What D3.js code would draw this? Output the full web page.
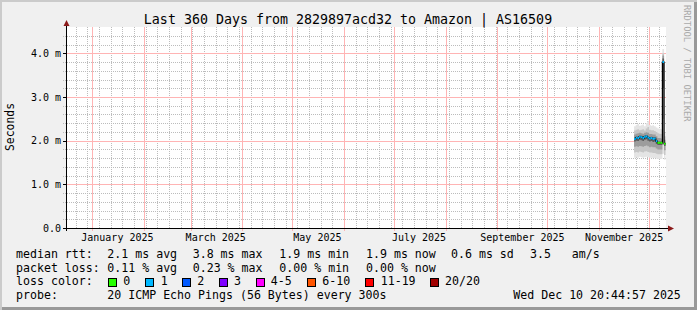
<!DOCTYPE html>
<html>
<head>
  <meta charset="utf-8">
  <title>smokeping 360 days</title>
  <style>
    body { margin: 0; background: #f0f0f0; }
    svg { display: block; font-family: "DejaVu Sans Mono", monospace; }
    .grid { fill: none; stroke-width: 1px; stroke-dasharray: 1,1; shape-rendering: crispEdges; }
    .mgrid { fill: none; stroke-width: 1px; shape-rendering: crispEdges; }
    .axis { stroke: #000; stroke-width: 1px; shape-rendering: crispEdges; }
  </style>
  <script src="https://cdn.jsdelivr.net/npm/d3@7/dist/d3.min.js"></script>
</head>
<body>
<script>
var W = 697, H = 310;

var title = "Last 360 Days from 2829897acd32 to Amazon | AS16509";
var rangeStart = "2024-12-15T20:44:57Z";
var rangeEnd = "2025-12-10T20:44:57Z";

// y axis (seconds, in ms units)
var yTicks = [0, 1, 2, 3, 4];
var yLabels = ["0.0", "1.0 m", "2.0 m", "3.0 m", "4.0 m"];

// month labels, every second month
var xLabelMonths = ["2025-01", "2025-03", "2025-05", "2025-07", "2025-09", "2025-11"];
var xLabels = ["January 2025", "March 2025", "May 2025", "July 2025", "September 2025", "November 2025"];

// daily data (ms)
var days = ["2025-11-22", "2025-11-23", "2025-11-24", "2025-11-25", "2025-11-26", "2025-11-27",
            "2025-11-28", "2025-11-29", "2025-11-30", "2025-12-01", "2025-12-02", "2025-12-03",
            "2025-12-04", "2025-12-05", "2025-12-06", "2025-12-07", "2025-12-08", "2025-12-09",
            "2025-12-10"];
var median = [2.04, 2.07, 2.06, 2.09, 2.08, 2.06, 2.09, 2.10, 2.07, 2.05, 2.06, 2.04, 2.05, 1.99, 1.95, 1.95, 1.95, 3.80, 1.93];
var lossIdx = [1, 1, 1, 1, 1, 1, 1, 1, 1, 1, 1, 1, 1, 1, 0, 0, 0, 1, 0];
var pingMax = [2.33, 2.36, 2.38, 2.34, 2.35, 2.37, 2.33, 2.40, 2.45, 2.36, 2.34, 2.35, 2.33, 2.30, 2.28, 2.27, 2.26, 4.10, 2.20];
var pingP90 = [2.23, 2.25, 2.26, 2.24, 2.25, 2.26, 2.23, 2.28, 2.31, 2.25, 2.24, 2.24, 2.22, 2.20, 2.17, 2.16, 2.15, 4.00, 2.10];
var pingP75 = [2.14, 2.16, 2.17, 2.18, 2.17, 2.16, 2.18, 2.19, 2.18, 2.15, 2.15, 2.14, 2.14, 2.10, 2.06, 2.06, 2.05, 3.95, 2.02];
var pingP60 = [2.07, 2.10, 2.09, 2.12, 2.11, 2.09, 2.12, 2.13, 2.10, 2.08, 2.09, 2.07, 2.08, 2.02, 1.98, 1.98, 1.98, 3.88, 1.96];
var pingP40 = [1.98, 2.00, 1.99, 2.02, 2.01, 1.99, 2.02, 2.03, 2.00, 1.98, 1.99, 1.97, 1.98, 1.93, 1.90, 1.90, 1.90, 3.20, 1.88];
var pingP25 = [1.86, 1.87, 1.86, 1.88, 1.87, 1.86, 1.88, 1.89, 1.87, 1.85, 1.86, 1.85, 1.85, 1.82, 1.80, 1.80, 1.80, 2.50, 1.78];
var pingP10 = [1.73, 1.74, 1.73, 1.75, 1.74, 1.73, 1.75, 1.76, 1.74, 1.73, 1.73, 1.72, 1.72, 1.70, 1.69, 1.69, 1.69, 1.90, 1.67];
var pingMin = [1.61, 1.62, 1.61, 1.63, 1.62, 1.61, 1.62, 1.63, 1.62, 1.61, 1.61, 1.60, 1.60, 1.59, 1.58, 1.58, 1.58, 1.70, 1.56];

var lossLabels = ["0", "1", "2", "3", "4-5", "6-10", "11-19", "20/20"];
var lossColors = ["#26ff00", "#00b8ff", "#0059ff", "#7e00ff", "#ff00ff", "#ff5500", "#ff0000", "#a10000"];

var rttLegend = ["median rtt:", "2.1 ms avg", "3.8 ms max", "1.9 ms min", "1.9 ms now", "0.6 ms sd", "3.5", "am/s"];
var lossLegend = ["packet loss:", "0.11 % avg", "0.23 % max", "0.00 % min", "0.00 % now"];
var probeLegend = ["probe:", "20 ICMP Echo Pings (56 Bytes) every 300s", "Wed Dec 10 20:44:57 2025"];

var svg = d3.select("body").append("svg")
  .attr("width", W)
  .attr("height", H);

// frame
svg.append("rect").attr("width", W).attr("height", H).attr("fill", "#cbcbcb");
svg.append("rect").attr("x", 2).attr("y", 2).attr("width", W - 2).attr("height", H - 2).attr("fill", "#999999");
svg.append("rect").attr("x", 2).attr("y", 2).attr("width", W - 5).attr("height", H - 5).attr("fill", "#f0f0f0");

var x = d3.scaleUtc()
  .domain([new Date(rangeStart), new Date(rangeEnd)])
  .range([65.5, 665.5]);

var y = d3.scaleLinear()
  .domain([0, 4.6])
  .range([228, 27.1]);

var px = function(v) { return Math.round(v) + 0.5; };

// canvas
svg.append("rect")
  .attr("x", 66).attr("y", 27)
  .attr("width", 600).attr("height", 201)
  .attr("fill", "#ffffff");

var grid = svg.append("g");

// minor grid, weekly / every 0.2 m
grid.selectAll("line.vmin").data(x.ticks(d3.utcSunday))
  .enter().append("line")
  .attr("class", "grid")
  .attr("x1", function(d) { return px(x(d)); })
  .attr("x2", function(d) { return px(x(d)); })
  .attr("y1", 27).attr("y2", 228)
  .style("stroke", "#bcbcbc");

var yMinor = d3.range(0, 23).map(function(i) { return i * 0.2; }).filter(function(v, i) { return i % 5 !== 0; });
grid.selectAll("line.hmin").data(yMinor)
  .enter().append("line")
  .attr("class", "grid")
  .attr("x1", 63).attr("x2", 666)
  .attr("y1", function(d) { return px(y(d)); })
  .attr("y2", function(d) { return px(y(d)); })
  .style("stroke", "#bcbcbc");

// major grid, monthly / every 1.0 m
var months = d3.utcMonth.range(new Date(rangeStart), new Date(rangeEnd));
grid.selectAll("line.vmaj").data(months)
  .enter().append("line")
  .attr("class", "mgrid")
  .attr("x1", function(d) { return px(x(d)); })
  .attr("x2", function(d) { return px(x(d)); })
  .attr("y1", 27).attr("y2", 231)
  .style("stroke", "#ffb4b4");

grid.selectAll("line.hmaj").data(yTicks.slice(1))
  .enter().append("line")
  .attr("class", "mgrid")
  .attr("x1", 63).attr("x2", 666)
  .attr("y1", function(d) { return px(y(d)); })
  .attr("y2", function(d) { return px(y(d)); })
  .style("stroke", "#ffb4b4");

// data rows
var rows = days.map(function(d, i) {
  return {
    t: new Date(d + "T00:00:00Z"),
    med: median[i], loss: lossIdx[i],
    b: [[pingMin[i], pingMax[i]], [pingP10[i], pingP90[i]], [pingP25[i], pingP75[i]], [pingP40[i], pingP60[i]]]
  };
});
var endRow = Object.assign({}, rows[rows.length - 1], { t: new Date(rangeEnd) });
var stepRows = rows.concat([endRow]);

var smokeShades = ["#e4e4e4", "#c6c6c6", "#9c9c9c", "#5c5c5c"];
smokeShades.forEach(function(col, k) {
  var area = d3.area()
    .curve(d3.curveStepAfter)
    .x(function(d) { return x(d.t); })
    .y0(function(d) { return y(d.b[k][0]); })
    .y1(function(d) { return y(d.b[k][1]); });
  svg.append("path")
    .datum(stepRows)
    .attr("d", area)
    .attr("fill", col);
});

// median line: black steps, then loss coloured segments
var medLine = d3.line()
  .curve(d3.curveStepAfter)
  .x(function(d) { return x(d.t); })
  .y(function(d) { return y(d.med); });
svg.append("path")
  .datum(stepRows)
  .attr("d", medLine)
  .attr("fill", "none")
  .attr("stroke", "#000")
  .attr("stroke-width", 1.2);

svg.selectAll("line.med").data(rows)
  .enter().append("line")
  .attr("x1", function(d) { return x(d.t); })
  .attr("x2", function(d, i) { return x(stepRows[i + 1].t); })
  .attr("y1", function(d) { return y(d.med); })
  .attr("y2", function(d) { return y(d.med); })
  .attr("stroke", function(d) { return lossColors[d.loss]; })
  .attr("stroke-width", 2);

// axes
svg.append("line").attr("class", "axis")
  .attr("x1", 63).attr("x2", 670).attr("y1", 228.5).attr("y2", 228.5);
svg.append("line").attr("class", "axis")
  .attr("x1", 66.5).attr("x2", 66.5).attr("y1", 231).attr("y2", 24);
svg.append("path").attr("d", "M668,225.5L674,228.5L668,231.5Z").attr("fill", "#8b1a1a");
svg.append("path").attr("d", "M63.5,26L66.5,20L69.5,26Z").attr("fill", "#8b1a1a");

svg.selectAll("line.ytick").data(yTicks)
  .enter().append("line").attr("class", "axis")
  .attr("x1", 63).attr("x2", 66)
  .attr("y1", function(d) { return px(y(d)); })
  .attr("y2", function(d) { return px(y(d)); });

svg.selectAll("text.ylab").data(yTicks)
  .enter().append("text")
  .attr("x", 61)
  .attr("y", function(d) { return y(d) + 3.6; })
  .attr("text-anchor", "end")
  .attr("font-size", "10px")
  .text(function(d, i) { return yLabels[i]; });

svg.selectAll("text.xlab").data(xLabelMonths)
  .enter().append("text")
  .attr("x", function(d) { return x(d3.utcDay.offset(new Date(d + "-01T00:00:00Z"), 15)); })
  .attr("y", 240.5)
  .attr("text-anchor", "middle")
  .attr("font-size", "10px")
  .text(function(d, i) { return xLabels[i]; });

// titles
svg.append("text")
  .attr("x", 348).attr("y", 24)
  .attr("text-anchor", "middle")
  .attr("font-size", "13.3px")
  .text(title);

svg.append("text")
  .attr("transform", "translate(14,127) rotate(-90)")
  .attr("text-anchor", "middle")
  .attr("font-size", "11.4px")
  .text("Seconds");

svg.append("text")
  .attr("transform", "translate(684,5) rotate(90)")
  .attr("font-size", "8.8px")
  .attr("fill", "#aaaaaa")
  .text("RRDTOOL / TOBI OETIKER");

// legend
var legend = svg.append("g").attr("font-size", "11.6px");
var rttX = [16, 107.3, 192.7, 279.3, 366, 451, 530, 571.7];
rttLegend.forEach(function(s, i) {
  legend.append("text").attr("x", rttX[i]).attr("y", 258).text(s);
});
var lossX = [16, 107.3, 192.7, 279.3, 366];
lossLegend.forEach(function(s, i) {
  legend.append("text").attr("x", lossX[i]).attr("y", 271.5).text(s);
});
legend.append("text").attr("x", 16).attr("y", 285).text("loss color:");
var boxX = [108.5, 145.5, 182.5, 219.5, 256.5, 307.5, 365.5, 430.5];
var boxTextX = [123.3, 160.7, 197.3, 234, 270.7, 322.3, 380.7, 445];
lossLabels.forEach(function(s, i) {
  legend.append("rect")
    .attr("x", boxX[i]).attr("y", 278.5)
    .attr("width", 8).attr("height", 8)
    .attr("fill", lossColors[i])
    .attr("stroke", "#000");
  legend.append("text").attr("x", boxTextX[i]).attr("y", 285).text(s);
});
var probeX = [16, 107.3, 513.3];
probeLegend.forEach(function(s, i) {
  legend.append("text").attr("x", probeX[i]).attr("y", 298.5).text(s);
});
</script>
</body>
</html>
